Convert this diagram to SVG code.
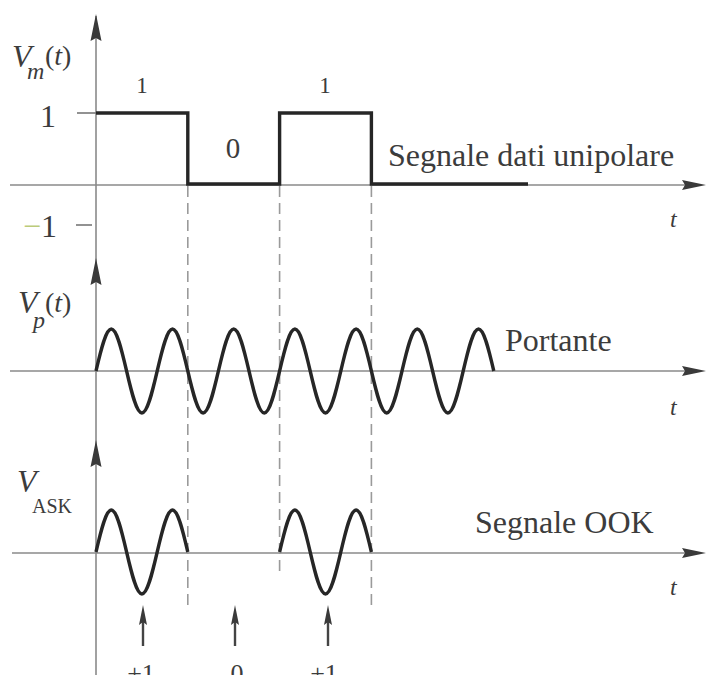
<svg xmlns="http://www.w3.org/2000/svg" xmlns:xlink="http://www.w3.org/1999/xlink" width="707" height="675" viewBox="0 0 707 675">
<style>
.axis{stroke:#8a8a8a;stroke-width:1.6;fill:none}
.tick{stroke:#777;stroke-width:1.6;fill:none}
.sig{stroke:#262626;stroke-width:3.4;fill:none;stroke-linejoin:miter}
.dash{stroke:#9a9a9a;stroke-width:1.6;fill:none;stroke-dasharray:11 6}
.ah{fill:#3a3a3a}
.ptr{stroke:#444;stroke-width:2.4;fill:none}
text{font-family:"Liberation Serif","Times New Roman",serif;fill:#3c3c3c}
.it{font-style:italic}
</style>
<defs>
<path id="up" d="M0,0 L-5.5,27 L0,24 L5.5,27 Z"/>
<path id="right" d="M0,0 L-24,-5 L-21,0 L-24,5 Z"/>
<path id="smallup" d="M0,0 L-4,20 L0,17 L4,20 Z"/>
</defs>

<g id="axes">
<line class="axis" x1="96" y1="16" x2="96" y2="675"/>
<line class="axis" x1="10" y1="185" x2="700" y2="185"/>
<line class="axis" x1="10" y1="371" x2="700" y2="371"/>
<line class="axis" x1="12" y1="553" x2="700" y2="553"/>
<use xlink:href="#up" x="96" y="14" class="ah"/>
<use xlink:href="#up" x="96" y="258" class="ah"/>
<use xlink:href="#up" x="96" y="440" class="ah"/>
<use xlink:href="#right" x="706" y="185" class="ah"/>
<use xlink:href="#right" x="706" y="371" class="ah"/>
<use xlink:href="#right" x="706" y="553" class="ah"/>
<line class="tick" x1="77" y1="113" x2="96" y2="113"/>
<line class="tick" x1="76" y1="225" x2="92" y2="225"/>
</g>

<g id="dashed">
<line class="dash" x1="187.8" y1="186" x2="187.8" y2="610"/>
<line class="dash" x1="279.6" y1="186" x2="279.6" y2="572"/>
<line class="dash" x1="371.4" y1="186" x2="371.4" y2="610"/>
</g>

<g id="data-signal">
<path class="sig" d="M96,113 H187.8 V184 H279.6 V113 H371.4 V184 H528"/>
<text x="48" y="127" font-size="32" text-anchor="middle">1</text>
<text x="23" y="237" font-size="32"><tspan fill="#bccb7a">−</tspan>1</text>
<text x="142" y="93" font-size="23" text-anchor="middle">1</text>
<text x="233" y="158" font-size="29" text-anchor="middle">0</text>
<text x="325" y="93" font-size="23" text-anchor="middle">1</text>
<text x="388" y="166" font-size="32">Segnale dati unipolare</text>
<text x="12" y="67" font-size="32" class="it">V</text>
<text x="27" y="79" font-size="24" class="it">m</text>
<text x="45" y="65" font-size="28">(<tspan class="it">t</tspan>)</text>
<text x="670" y="227" font-size="24" class="it">t</text>
</g>

<g id="carrier">
<path class="sig" d="M96,371 c4.99,-21.52 9.76,-42 15.3,-42 c5.54,0 10.31,20.48 15.3,42 c4.99,21.52 9.76,42 15.3,42 c5.54,0 10.31,-20.48 15.3,-42 c4.99,-21.52 9.76,-42 15.3,-42 c5.54,0 10.31,20.48 15.3,42 c4.99,21.52 9.76,42 15.3,42 c5.54,0 10.31,-20.48 15.3,-42 c4.99,-21.52 9.76,-42 15.3,-42 c5.54,0 10.31,20.48 15.3,42 c4.99,21.52 9.76,42 15.3,42 c5.54,0 10.31,-20.48 15.3,-42 c4.99,-21.52 9.76,-42 15.3,-42 c5.54,0 10.31,20.48 15.3,42 c4.99,21.52 9.76,42 15.3,42 c5.54,0 10.31,-20.48 15.3,-42 c4.99,-21.52 9.76,-42 15.3,-42 c5.54,0 10.31,20.48 15.3,42 c4.99,21.52 9.76,42 15.3,42 c5.54,0 10.31,-20.48 15.3,-42 c4.99,-21.52 9.76,-42 15.3,-42 c5.54,0 10.31,20.48 15.3,42 c4.99,21.52 9.76,42 15.3,42 c5.54,0 10.31,-20.48 15.3,-42 c4.99,-21.52 9.76,-42 15.3,-42 c5.54,0 10.31,20.48 15.3,42"/>
<text x="505" y="351" font-size="32">Portante</text>
<text x="18" y="313" font-size="32" class="it">V</text>
<text x="33" y="328" font-size="24" class="it">p</text>
<text x="45" y="312" font-size="28">(<tspan class="it">t</tspan>)</text>
<text x="670" y="415" font-size="24" class="it">t</text>
</g>

<g id="ook">
<path class="sig" d="M96,552 c4.99,-21.52 9.76,-42 15.3,-42 c5.54,0 10.31,20.48 15.3,42 c4.99,21.52 9.76,42 15.3,42 c5.54,0 10.31,-20.48 15.3,-42 c4.99,-21.52 9.76,-42 15.3,-42 c5.54,0 10.31,20.48 15.3,42"/>
<path class="sig" d="M279.6,552 c4.99,-21.52 9.76,-42 15.3,-42 c5.54,0 10.31,20.48 15.3,42 c4.99,21.52 9.76,42 15.3,42 c5.54,0 10.31,-20.48 15.3,-42 c4.99,-21.52 9.76,-42 15.3,-42 c5.54,0 10.31,20.48 15.3,42"/>
<text x="475" y="533" font-size="32">Segnale OOK</text>
<text x="17" y="492" font-size="32" class="it">V</text>
<text x="32" y="513" font-size="20">ASK</text>
<text x="670" y="595" font-size="24" class="it">t</text>
</g>

<g id="bit-pointers">
<line class="ptr" x1="143" y1="620" x2="143" y2="646"/>
<use xlink:href="#smallup" x="143" y="605" class="ah"/>
<line class="ptr" x1="235" y1="620" x2="235" y2="646" stroke-width="1.6"/>
<use xlink:href="#smallup" x="235" y="605" class="ah"/>
<line class="ptr" x1="328" y1="620" x2="328" y2="646"/>
<use xlink:href="#smallup" x="328" y="605" class="ah"/>
<text x="141" y="682" font-size="26" text-anchor="middle">+1</text>
<text x="237" y="682" font-size="26" text-anchor="middle">0</text>
<text x="324" y="682" font-size="26" text-anchor="middle">+1</text>
</g>
</svg>
